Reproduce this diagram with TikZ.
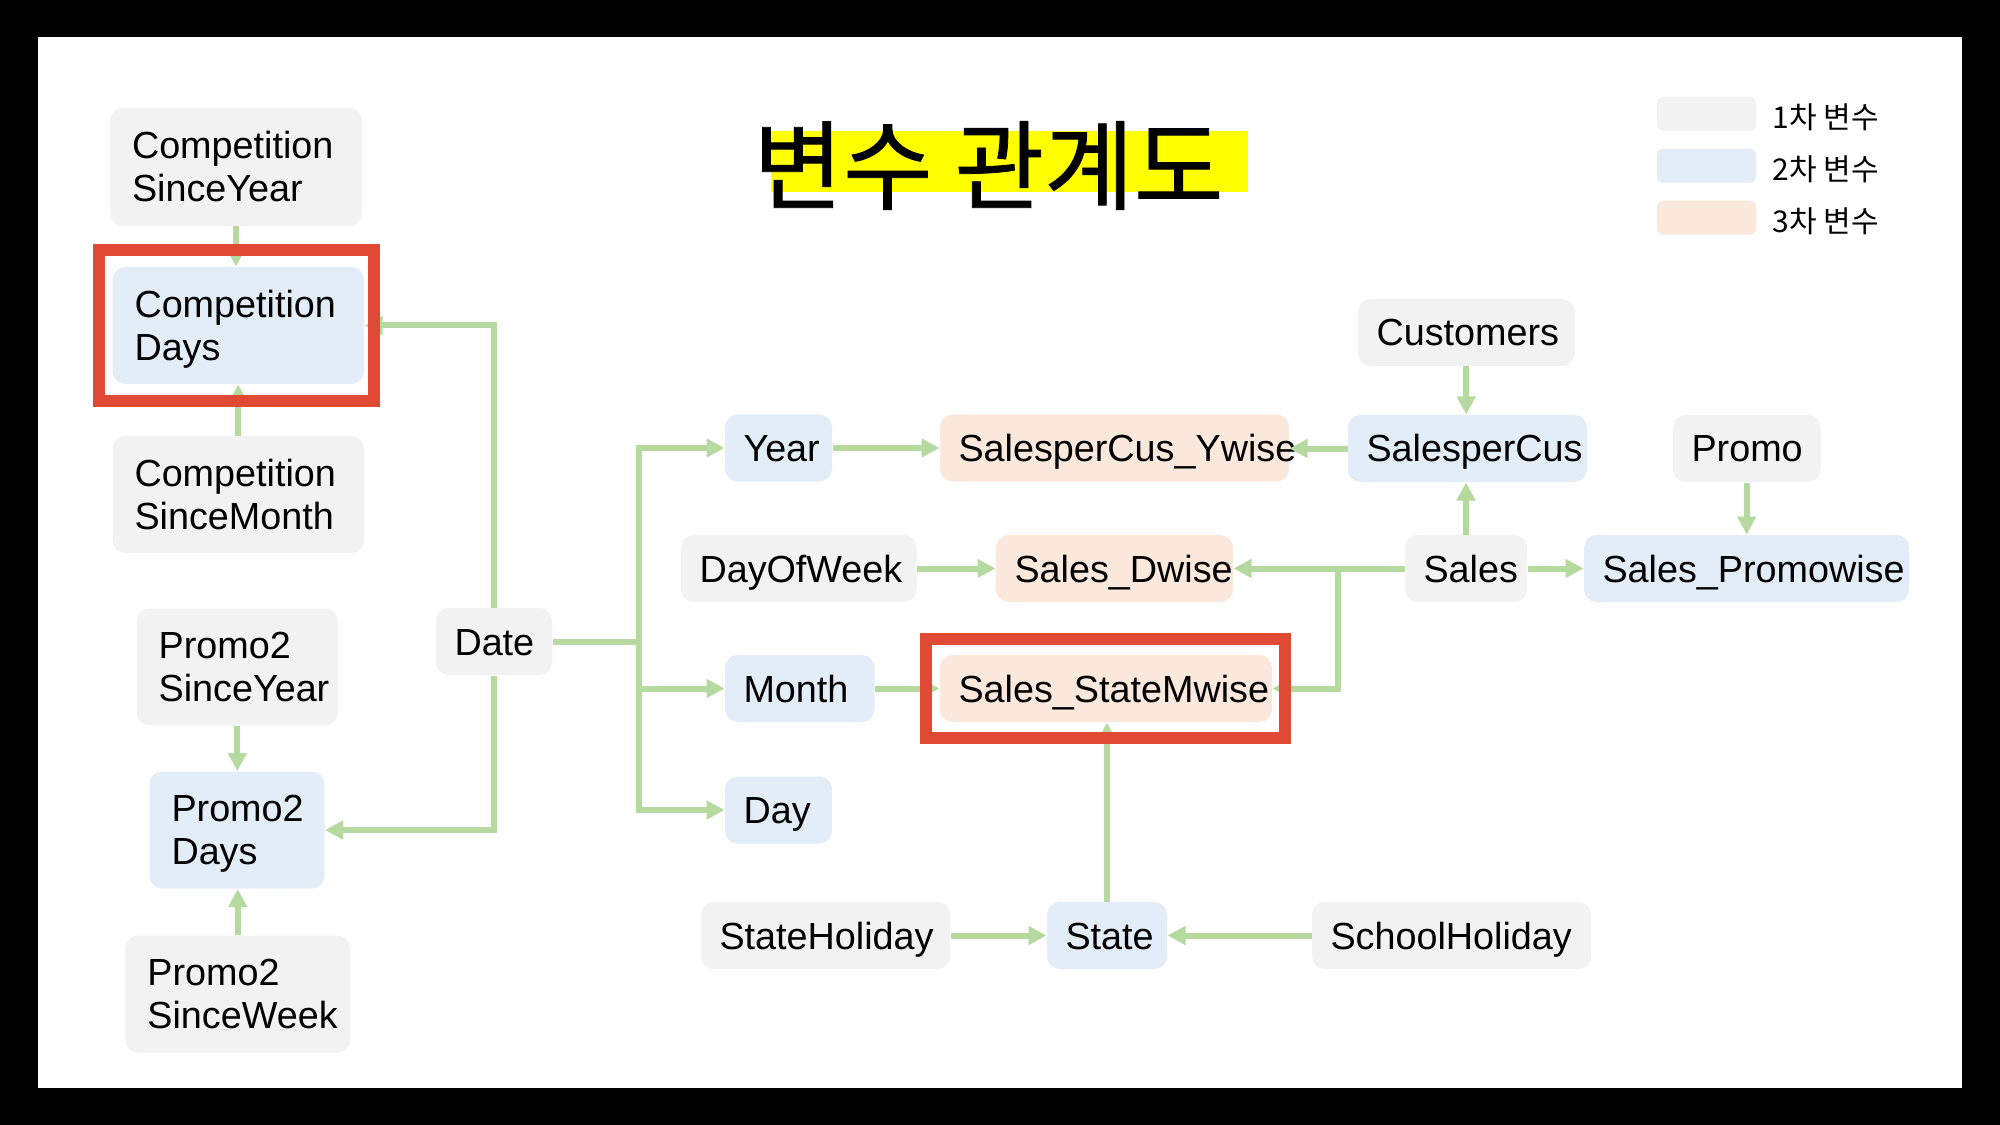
\documentclass[tikz,border=0pt]{standalone}
\usepackage{fontspec}
\usepackage{graphicx}
\setmainfont{Liberation Sans}
\newfontfamily\krfont{Noto Sans CJK KR}
\newfontfamily\krtitle{Noto Sans CJK KR}[FakeBold=0.8]
\usetikzlibrary{arrows.meta}
\definecolor{cone}{HTML}{F2F2F2}
\definecolor{ctwo}{HTML}{E2EDF8}
\definecolor{cthree}{HTML}{FBE8DC}
\definecolor{cgreen}{HTML}{B5D99F}
\definecolor{cred}{HTML}{E04A35}
\definecolor{cyel}{HTML}{FFFF00}
\tikzset{
  vbox/.style={rounded corners=5pt, inner sep=0pt, text=black,
    font=\fontsize{15.1pt}{17.2pt}\selectfont},
  sz/.style 2 args={minimum width=#1*0.4pt, minimum height=#2*0.4pt},
  lvone/.style={vbox, fill=cone},
  lvtwo/.style={vbox, fill=ctwo},
  lvthree/.style={vbox, fill=cthree},
  twoline/.style={align=left, inner xsep=8.8pt, text width=#1*0.4pt-17.6pt},
  oneline/.style={align=left, inner xsep=7.4pt, text width=#1*0.4pt-14.8pt,
    text height=10.8pt, text depth=0pt, sz={#1}{67}},
  conn/.style={draw=cgreen, line width=2.4pt},
  arr/.style={conn, -{Triangle[length=7.2pt,width=7.2pt]}},
  redframe/.style={draw=cred},
  legbox/.style={rounded corners=2.5pt, inner sep=0pt, minimum width=39.6pt, minimum height=13.6pt},
  legtext/.style={anchor=west, inner sep=0pt, font=\krfont\fontsize{12pt}{14pt}\selectfont},
}
\begin{document}
\begin{tikzpicture}[x=0.4pt, y=-0.4pt]
\fill[black] (0,0) rectangle (2000,1125);
\fill[white] (37.5,37.5) rectangle (1962,1087.5);

% title
\fill[cyel] (770.8,130.7) rectangle (1248,191.7);
\node[inner sep=0pt, font=\krtitle\fontsize{39pt}{42pt}\selectfont] (title) at (988.5,165.5) {변수 관계도};

% legend
\node[legbox, fill=cone] (lg1) at (1706.5,113.7) {};
\node[legbox, fill=ctwo] (lg2) at (1706.5,165.7) {};
\node[legbox, fill=cthree] (lg3) at (1706.5,217.7) {};
\node[legtext] (lt1) at (1772,117) {1차 변수};
\node[legtext] (lt2) at (1772,169) {2차 변수};
\node[legtext] (lt3) at (1772,221) {3차 변수};

% left column
\node[lvone, sz={252}{118}, twoline=252] (csy) at (236,167) {Competition\\SinceYear};
\node[lvtwo, sz={251.5}{117}, twoline=251.5] (cd) at (238.25,325.5) {Competition\\\smash{Days}};
\node[lvone, sz={251.5}{117}, twoline=251.5] (csm) at (238.25,494.5) {Competition\\SinceMonth};
\node[lvone, sz={201.4}{116.8}, twoline=201.4] (p2sy) at (237.3,666.9) {Promo2\\SinceYear};
\node[lvtwo, sz={175}{117}, twoline=175] (p2d) at (237,830) {Promo2\\\smash{Days}};
\node[lvone, sz={224.6}{117}, twoline=224.6] (p2sw) at (237.7,994.1) {Promo2\\SinceWeek};

% single-line nodes
\node[lvone, oneline=116] (date) at (494,641.5) {Date};
\node[lvtwo, oneline=107] (year) at (778.5,448) {Year};
\node[lvtwo, oneline=149.5] (month) at (799.75,688.5) {Month};
\node[lvtwo, oneline=107] (day) at (778.5,810) {Day};
\node[lvone, oneline=235.5] (dow) at (798.75,568.5) {DayOfWeek};
\node[lvthree, oneline=349] (scy) at (1114.5,448) {SalesperCus\_Ywise};
\node[lvthree, oneline=237] (sdw) at (1114.5,568.5) {Sales\_Dwise};
\node[lvthree, oneline=332] (ssm) at (1106,688.5) {Sales\_StateMwise};
\node[lvone, oneline=216.5] (cust) at (1466.25,332.5) {Customers};
\node[lvtwo, oneline=239] (spc) at (1467.5,448.5) {SalesperCus};
\node[lvone, oneline=147.5] (promo) at (1746.75,448.5) {Promo};
\node[lvone, oneline=122] (sales) at (1466,568.5) {Sales};
\node[lvtwo, oneline=325] (spw) at (1746.5,568.5) {Sales\_Promowise};
\node[lvone, oneline=249] (sthol) at (825.5,935.5) {StateHoliday};
\node[lvtwo, oneline=120] (state) at (1107,935.5) {State};
\node[lvone, oneline=279] (schol) at (1451.5,935.5) {SchoolHoliday};

% connectors
\draw[arr] (csy.south) -- (csy.south |- cd.north);
\draw[arr] (csm.north) -- (csm.north |- cd.south);
\draw[arr] (date.north) |- (cd.east);
\draw[arr] (date.south) |- (p2d.east);
\draw[arr] (p2sy.south) -- (p2sy.south |- p2d.north);
\draw[arr] (p2sw.north) -- (p2sw.north |- p2d.south);

\coordinate (trunk) at (639,641.5);
\draw[conn] (date.east) -- (trunk);
\draw[arr] (trunk) |- (year.west);
\draw[arr] (trunk) |- (month.west);
\draw[arr] (trunk) |- (day.west);

\draw[arr] (year.east) -- (scy.west);
\draw[arr] (spc.west) -- (spc.west -| scy.east);
\draw[arr] (cust.south) -- (cust.south |- spc.north);
\draw[arr] (sales.north) -- (sales.north |- spc.south);
\draw[arr] (promo.south) -- (promo.south |- spw.north);
\draw[arr] (sales.east) -- (spw.west);
\draw[arr] (sales.west) -- (sdw.east);
\coordinate (junc) at (1338,568.5);
\draw[arr] (junc) |- (ssm.east);
\draw[arr] (dow.east) -- (sdw.west);
\draw[arr] (month.east) -- (ssm.west);
\draw[arr] (state.north) -- (state.north |- ssm.south);
\draw[arr] (sthol.east) -- (state.west);
\draw[arr] (schol.west) -- (state.east);

% highlight frames
\draw[redframe, line width=5pt] (99,250) rectangle (374,401);
\draw[redframe, line width=4.8pt] (926,639) rectangle (1285,738);
\end{tikzpicture}
\end{document}
